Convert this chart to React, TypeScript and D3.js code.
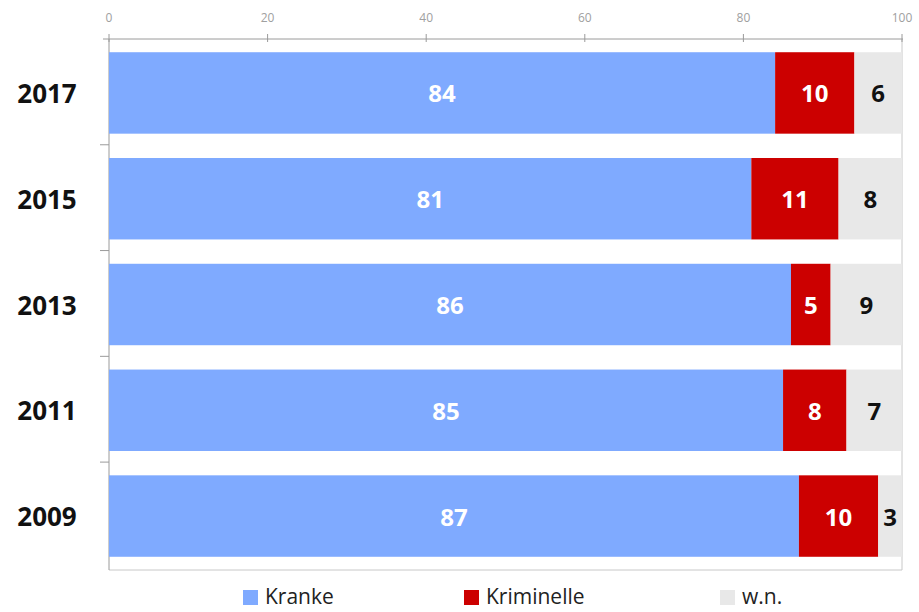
import { useEffect, useRef } from 'react';
import * as d3 from 'd3';

const years = ['2017', '2015', '2013', '2011', '2009'];
const kranke = [84, 81, 86, 85, 87];
const kriminelle = [10, 11, 5, 8, 10];
const wn = [6, 8, 9, 7, 3];
const seriesNames = ['Kranke', 'Kriminelle', 'w.n.'];
const xTicks = [0, 20, 40, 60, 80, 100];

const colors = ['#7FAAFF', '#CC0000', '#E8E8E8'];
const labelColors = ['#ffffff', '#ffffff', '#111111'];

export default function App() {
  const svgRef = useRef<SVGSVGElement>(null);
  const width = 919;
  const height = 612;

  useEffect(() => {
    const svg = d3.select(svgRef.current);
    svg.selectAll('*').remove();

    const left = 109, right = 902, top = 39, bottom = 570;
    const font = '"Open Sans", "Noto Sans", sans-serif';

    const x = d3.scaleLinear().domain([0, 100]).range([left, right]);
    const y = d3.scaleBand().domain(years).range([top, bottom]).paddingInner(0.23).paddingOuter(0.125);

    const rows = years.map((yr, i) => ({ year: yr, values: [kranke[i], kriminelle[i], wn[i]] }));

    // plot frame (right + bottom)
    svg.append('path')
      .attr('d', `M${right},${top}V${bottom}H${left}`)
      .attr('fill', 'none')
      .attr('stroke', '#c8c8c8')
      .attr('stroke-width', 1);

    // top axis
    const g = svg.append('g');
    g.append('line')
      .attr('x1', left - 6).attr('x2', right + 1)
      .attr('y1', top).attr('y2', top)
      .attr('stroke', '#9a9a9a');
    xTicks.forEach(t => {
      g.append('line')
        .attr('x1', x(t)).attr('x2', x(t))
        .attr('y1', top - 5).attr('y2', top + 3)
        .attr('stroke', '#9a9a9a');
      g.append('text')
        .attr('x', x(t)).attr('y', 22)
        .attr('text-anchor', 'middle')
        .attr('fill', '#a0a0a0')
        .style('font-family', font)
        .style('font-size', '12px')
        .text(t);
    });

    // left axis
    g.append('line')
      .attr('x1', left).attr('x2', left)
      .attr('y1', top).attr('y2', bottom)
      .attr('stroke', '#9a9a9a');
    const step = y.step();
    years.forEach((yr, i) => {
      if (i > 0) {
        const yy = top + step * i;
        g.append('line')
          .attr('x1', left - 9).attr('x2', left)
          .attr('y1', yy).attr('y2', yy)
          .attr('stroke', '#9a9a9a');
      }
      g.append('text')
        .attr('x', 47).attr('y', (y(yr) as number) + y.bandwidth() / 2)
        .attr('text-anchor', 'middle')
        .attr('dominant-baseline', 'central')
        .attr('fill', '#111')
        .style('font-family', font)
        .style('font-weight', 700)
        .style('font-size', '26px')
        .text(yr);
    });

    // bars
    rows.forEach(r => {
      let acc = 0;
      r.values.forEach((v, k) => {
        const x0 = x(acc), x1 = x(acc + v);
        svg.append('rect')
          .attr('x', x0).attr('y', y(r.year) as number)
          .attr('width', x1 - x0).attr('height', y.bandwidth())
          .attr('fill', colors[k]);
        svg.append('text')
          .attr('x', (x0 + x1) / 2)
          .attr('y', (y(r.year) as number) + y.bandwidth() / 2)
          .attr('text-anchor', 'middle')
          .attr('dominant-baseline', 'central')
          .attr('fill', labelColors[k])
          .style('font-family', font)
          .style('font-weight', 700)
          .style('font-size', '24px')
          .text(v);
        acc += v;
      });
    });

    // legend
    const legendX = [243, 464, 720];
    seriesNames.forEach((name, k) => {
      svg.append('rect')
        .attr('x', legendX[k]).attr('y', 590)
        .attr('width', 15).attr('height', 15)
        .attr('fill', colors[k]);
      svg.append('text')
        .attr('x', legendX[k] + 22).attr('y', 596)
        .attr('dominant-baseline', 'central')
        .attr('fill', '#222')
        .style('font-family', font)
        .style('font-size', '21px')
        .text(name);
    });
  }, []);

  return (
    <svg ref={svgRef} width={width} height={height}
      style={{ position: 'absolute', left: 0, top: 0, background: '#fff' }} />
  );
}
